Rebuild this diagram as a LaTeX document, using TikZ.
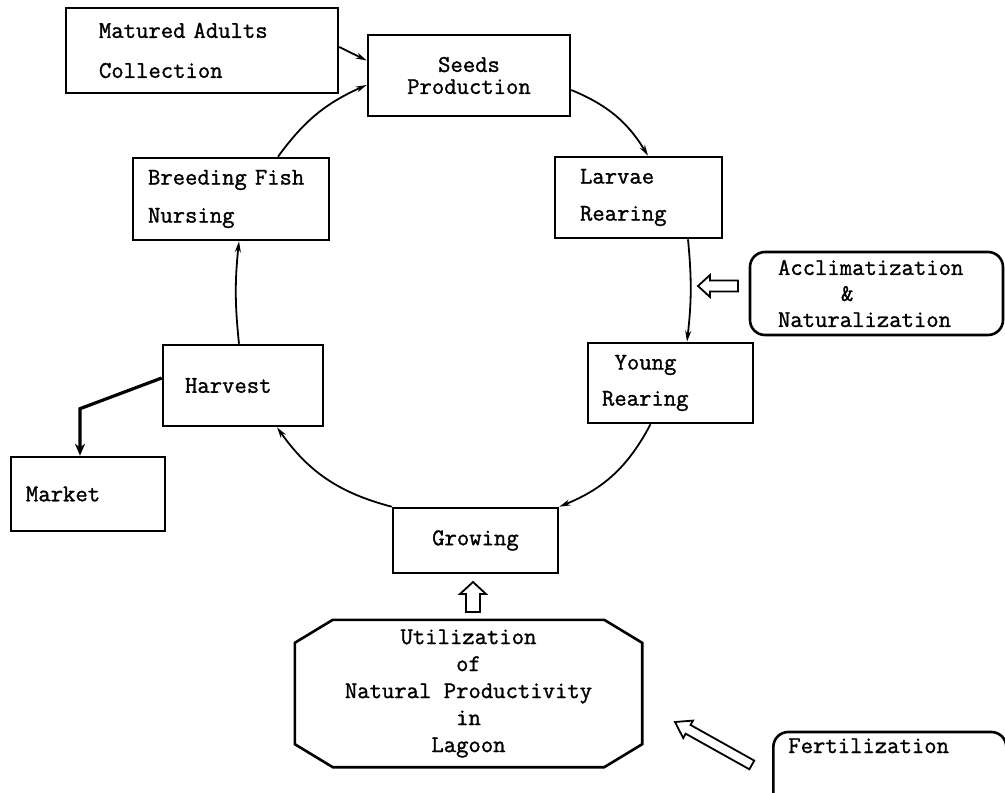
\documentclass[tikz,border=0pt]{standalone}
\usepackage{fontspec}
\setmonofont{Latin Modern Mono}[BoldFont={Latin Modern Mono}, BoldFeatures={FakeBold=1.2}]
\usetikzlibrary{arrows.meta,calc}

% hollow block arrow: tip, rotation, length, head length, head half-width, shaft half-width
\newcommand{\blockarrow}[6]{%
  \draw[line width=1.8pt, line join=miter, fill=white, shift={#1}, rotate=#2]
    (0,0) -- (#4,#5) -- (#4,#6) -- (#3,#6) -- (#3,-#6) -- (#4,-#6) -- (#4,-#5) -- cycle;}

\begin{document}
\begin{tikzpicture}[x=1pt,y=-1pt,
  every node/.style={font=\fontsize{24}{26}\selectfont\ttfamily\bfseries},
  box/.style={draw, line width=2.6pt, inner ysep=0pt},
  cyc/.style={line width=1.8pt, -{Stealth[length=11pt,width=6pt]}},
  bigarrow/.style={line width=3.2pt, -{Stealth[length=12pt,width=10pt]}}]

\fill[white] (0,0) rectangle (1005,793);
\useasboundingbox (0,0) rectangle (1005,793);

% stages of the cycle
\node[box, minimum width=272pt, minimum height=85pt, inner xsep=33pt, text width=206pt, align=left]
  (mat) at (202,50.5) {Matured Adults\\[14pt]Collection};
\node[box, minimum width=202pt, minimum height=81pt, inner xsep=0pt, align=center]
  (seeds) at (469,75.5) {Seeds\\[-4pt]Production};
\node[box, minimum width=196pt, minimum height=82pt, inner xsep=15pt, text width=166pt, align=left]
  (breed) at (231,199) {Breeding Fish\\[12pt]Nursing};
\node[box, minimum width=167pt, minimum height=81pt, inner xsep=25pt, text width=117pt, align=left]
  (larv) at (638.5,197.5) {Larvae\\[11pt]Rearing};
\node[box, rounded corners=15pt, minimum width=253pt, minimum height=83pt, inner xsep=28pt, text width=197pt, align=left]
  (accl) at (876.5,293.5) {Acclimatization\\\hspace*{2.625em}\&\\Naturalization};
\node[box, minimum width=165pt, minimum height=80pt, inner xsep=14pt, text width=137pt, align=left]
  (young) at (670.5,383) {\hspace*{0.525em}Young\\[10pt]Rearing};
\node[box, minimum width=160pt, minimum height=81pt, inner xsep=22pt, text width=116pt, align=left]
  (harv) at (243,385.5) {Harvest};
\node[box, minimum width=154pt, minimum height=74pt, inner xsep=15pt, text width=124pt, align=left]
  (market) at (88,494) {Market};
\node[box, minimum width=165pt, minimum height=65pt, inner xsep=0pt, align=center]
  (grow) at (475.5,540.5) {Growing};
\node[minimum width=347pt, minimum height=147pt, inner sep=0pt, align=center]
  (util) at (468.5,693.5) {Utilization\\[1pt]of\\[1pt]Natural Productivity\\[1pt]in\\[1pt]Lagoon};
\node[box, rounded corners=15pt, anchor=base west, inner xsep=15pt, inner ysep=6pt,
  text height=15pt, text depth=55pt, text width=203pt, align=left]
  (fert) at (772,753) {Fertilization};

% octagonal outline of the lagoon box
\draw[line width=2.6pt]
  ($(util.north west)+(38,0)$) -- ($(util.north east)+(-38,0)$) --
  ($(util.north east)+(0,23)$) -- ($(util.south east)+(0,-23)$) --
  ($(util.south east)+(-38,0)$) -- ($(util.south west)+(38,0)$) --
  ($(util.south west)+(0,-23)$) -- ($(util.north west)+(0,23)$) -- cycle;

% the production cycle
\draw[cyc] ($(seeds.east)+(0,14.5)$) to[bend left=18] ($(larv.north)+(9.5,0)$);
\draw[cyc] ($(larv.south)+(49.5,0)$) to[bend left=6] ($(young.north)+(16.5,0)$);
\draw[cyc] ($(young.south)+(-20,0)$) to[bend left=20] (grow.north east);
\draw[cyc] (grow.north west) to[bend left=20] ($(harv.south)+(34,0)$);
\draw[cyc] ($(harv.north)+(-4,0)$) to[bend left=6] ($(breed.south)+(8,0)$);
\draw[cyc] ($(breed.north)+(47,0)$) to[bend left=15] ($(seeds.west)+(0,9.5)$);
\draw[cyc] ($(mat.east)+(0,-3.5)$) -- ($(seeds.west)+(0,-15)$);

% harvest to market
\coordinate (bendpt) at ($(market.north)+(-8,-47)$);
\draw[bigarrow] ($(harv.west)+(0,-7.5)$) -- (bendpt) -- ($(market.north)+(-8,0)$);

% inputs shown as hollow arrows
\blockarrow{(698,286)}{0}{40}{12}{11}{5.5}
\blockarrow{(473,582)}{-90}{30}{12}{13}{7}
\blockarrow{(675,722)}{-29.2}{88}{15}{10}{5}

\end{tikzpicture}
\end{document}
